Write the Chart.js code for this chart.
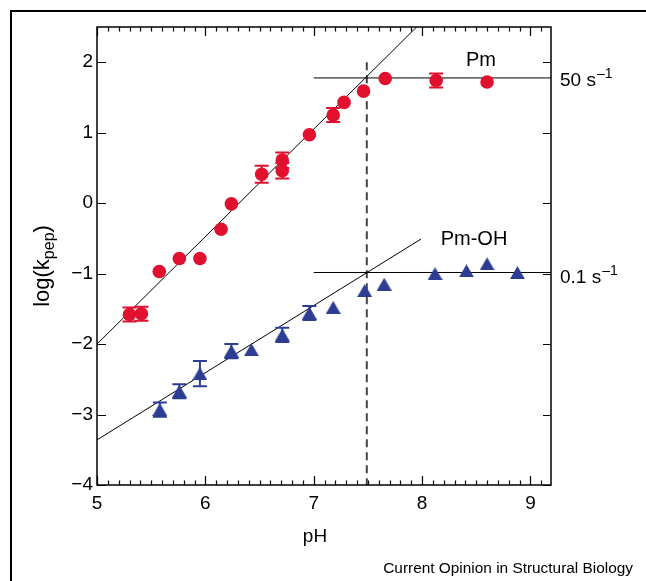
<!DOCTYPE html>
<html><head><meta charset="utf-8">
<script src="https://cdn.jsdelivr.net/npm/chart.js@4.4.1/dist/chart.umd.min.js"></script>
<style>html,body{margin:0;padding:0;background:#fff;}#wrap{width:646px;height:581px;position:relative;}</style>
</head><body><div id="wrap"><canvas id="c" width="646" height="581"></canvas></div>
<script>
// ---- data ----
const xTicks = [5, 6, 7, 8, 9];
const yTicks = [-4, -3, -2, -1, 0, 1, 2];
const pmPH  = [5.30, 5.41, 5.575, 5.76, 5.95, 6.145, 6.24, 6.52, 6.71, 6.71, 6.96, 7.18, 7.28, 7.46, 7.66, 8.13, 8.60];
const pmLog = [-1.58, -1.57, -0.97, -0.785, -0.785, -0.37, -0.01, 0.41, 0.46, 0.61, 0.97, 1.25, 1.43, 1.59, 1.77, 1.74, 1.72];
const pmErr = [0.10, 0.10, 0, 0, 0, 0, 0, 0.12, 0.11, 0.11, 0, 0.10, 0, 0, 0, 0.10, 0];
const ohPH  = [5.58, 5.76, 5.95, 6.24, 6.425, 6.71, 6.96, 7.18, 7.47, 7.65, 8.12, 8.41, 8.60, 8.88];
const ohLog = [-2.93, -2.67, -2.42, -2.10, -2.08, -1.87, -1.56, -1.48, -1.24, -1.15, -1.00, -0.96, -0.86, -0.985];
const ohErr = [0.10, 0.10, 0.18, 0.10, 0, 0.10, 0.10, 0, 0, 0, 0, 0, 0, 0];
const pmFitPH = [5.0, 7.95],  pmFitLog = [-2.0, 2.5];
const ohFitPH = [5.0, 7.99],  ohFitLog = [-3.36, -0.51];
const pmPlatPH = [7.0, 9.19], pmPlatLog = [1.777, 1.777];
const ohPlatPH = [7.0, 9.19], ohPlatLog = [-0.984, -0.984];
const pkaPH = [7.49, 7.49],   pkaLog = [2.0, -4.0];
const xMin = 5, xMax = 9.19, yMin = -4, yMax = 2.5;
const seriesNames = ['Pm', 'Pm-OH'];
const rateLabels = ['50 s', '0.1 s'];

// ---- helpers ----
const FONT = "'Liberation Sans', Arial, Helvetica, sans-serif";
const RED = '#e1102f', BLUE = '#2c3d93';
const pts = (xs, ys) => xs.map((x, i) => ({x: x, y: ys[i]}));
const lineDS = (xs, ys, extra) => Object.assign({
  data: pts(xs, ys), showLine: true, pointRadius: 0, borderColor: '#000', borderWidth: 1,
  fill: false, order: 5
}, extra || {});

// triangle marker centred on its bounding box
const tri = document.createElement('canvas');
tri.width = 15; tri.height = 13;
(function () {
  const t = tri.getContext('2d');
  t.fillStyle = BLUE;
  t.beginPath();
  t.moveTo(7.5, 0); t.lineTo(15, 13); t.lineTo(0, 13); t.closePath();
  t.fill();
})();

const errorBarPlugin = {
  id: 'errbars',
  beforeDatasetDraw(chart, args) {
    const ds = chart.data.datasets[args.index];
    if (!ds.errors) return;
    const {ctx, scales: {x, y}} = chart;
    ctx.save();
    ctx.strokeStyle = ds.errColor;
    ctx.lineWidth = 2;
    ds.data.forEach((p, i) => {
      const e = ds.errors[i];
      if (!e) return;
      const px = x.getPixelForValue(p.x);
      const y1 = y.getPixelForValue(p.y + e), y2 = y.getPixelForValue(p.y - e);
      ctx.beginPath();
      ctx.moveTo(px, y1); ctx.lineTo(px, y2);
      ctx.moveTo(px - 7, y1); ctx.lineTo(px + 7, y1);
      ctx.moveTo(px - 7, y2); ctx.lineTo(px + 7, y2);
      ctx.stroke();
    });
    ctx.restore();
  }
};

const framePlugin = {
  id: 'frame',
  afterDraw(chart) {
    const {ctx, chartArea: a, scales: {x, y}} = chart;
    ctx.save();
    ctx.strokeStyle = '#000';
    ctx.lineWidth = 1.5;
    ctx.strokeRect(a.left, a.top, a.right - a.left, a.bottom - a.top);
    ctx.lineWidth = 1.2;
    ctx.beginPath();
    for (let i = 0; i * 0.1 + xMin <= xMax + 1e-9; i++) {
      const v = xMin + i * 0.1;
      const px = Math.round(x.getPixelForValue(v)) + 0.5;
      const len = (i % 10 === 0) ? 9 : 4.5;
      ctx.moveTo(px, a.bottom); ctx.lineTo(px, a.bottom - len);
      ctx.moveTo(px, a.top); ctx.lineTo(px, a.top + len);
    }
    yTicks.forEach(v => {
      const py = Math.round(y.getPixelForValue(v)) + 0.5;
      ctx.moveTo(a.left, py); ctx.lineTo(a.left + 9, py);
      ctx.moveTo(a.right, py); ctx.lineTo(a.right - 8, py);
    });
    ctx.stroke();
    // outer frame
    ctx.lineWidth = 2;
    ctx.beginPath();
    ctx.moveTo(11, 581); ctx.lineTo(11, 11); ctx.lineTo(646, 11);
    ctx.stroke();

    ctx.fillStyle = '#000';
    ctx.textBaseline = 'alphabetic';
    // x title
    ctx.font = '19px ' + FONT;
    ctx.textAlign = 'center';
    ctx.fillText('pH', 315, 542);
    // series names
    ctx.font = '20px ' + FONT;
    ctx.fillText(seriesNames[0], 481, 66);
    ctx.fillText(seriesNames[1], 474, 245);
    // rate labels with superscript
    ctx.textAlign = 'left';
    const rate = (txt, px, base) => {
      ctx.font = '19px ' + FONT;
      ctx.fillText(txt, px, base);
      const w = ctx.measureText(txt).width;
      ctx.font = '14px ' + FONT;
      ctx.fillText('\u20131', px + w + 1, base - 8);
    };
    rate(rateLabels[0], 560, 86);
    rate(rateLabels[1], 560, 283);
    // y title with subscript
    ctx.save();
    ctx.translate(49, 266);
    ctx.rotate(-Math.PI / 2);
    ctx.font = '22px ' + FONT;
    const w1 = ctx.measureText('log(k').width, w3 = ctx.measureText(')').width;
    ctx.font = '16px ' + FONT;
    const w2 = ctx.measureText('pep').width;
    let sx = -(w1 + w2 + w3) / 2;
    ctx.font = '22px ' + FONT; ctx.fillText('log(k', sx, 0); sx += w1;
    ctx.font = '16px ' + FONT; ctx.fillText('pep', sx, 5); sx += w2;
    ctx.font = '22px ' + FONT; ctx.fillText(')', sx, 0);
    ctx.restore();
    // footer
    ctx.font = "15.4px 'Liberation Sans Narrow', 'Liberation Sans', Arial, sans-serif";
    ctx.textAlign = 'right';
    ctx.fillText('Current Opinion in Structural Biology', 633, 573);
    ctx.restore();
  }
};

const minusFmt = v => (v < 0 ? '\u2212' + Math.abs(v) : String(v));

new Chart(document.getElementById('c'), {
  type: 'scatter',
  data: {
    datasets: [
      {label: seriesNames[0], data: pts(pmPH, pmLog), errors: pmErr, errColor: RED, backgroundColor: RED, borderColor: RED,
       pointStyle: 'circle', pointRadius: 6.8, pointBorderWidth: 0, order: 0},
      {label: seriesNames[1], data: pts(ohPH, ohLog), errors: ohErr, errColor: BLUE, backgroundColor: BLUE, borderColor: BLUE,
       pointStyle: tri, pointRadius: 7.5, pointBorderWidth: 0, order: 1},
      lineDS(pmFitPH, pmFitLog),
      lineDS(ohFitPH, ohFitLog),
      lineDS(pmPlatPH, pmPlatLog),
      lineDS(ohPlatPH, ohPlatLog),
      lineDS(pkaPH, pkaLog, {borderColor: '#444', borderWidth: 2, borderDash: [8, 5], order: 6})
    ]
  },
  options: {
    responsive: false,
    animation: false,
    devicePixelRatio: 1,
    layout: {padding: {left: 0, top: 27, right: 95, bottom: 0}},
    plugins: {legend: {display: false}, tooltip: {enabled: false}},
    scales: {
      x: {
        type: 'linear', min: xMin, max: xMax,
        afterBuildTicks: s => { s.ticks = xTicks.map(v => ({value: v})); },
        afterFit: s => { s.height = 96; },
        ticks: {font: {family: FONT, size: 19}, color: '#000', padding: 7, maxRotation: 0, autoSkip: false},
        grid: {display: false, drawTicks: false},
        border: {display: false}
      },
      y: {
        type: 'linear', min: yMin, max: yMax,
        afterBuildTicks: s => { s.ticks = yTicks.map(v => ({value: v})); },
        afterFit: s => { s.width = 97; },
        ticks: {font: {family: FONT, size: 19}, color: '#000', padding: 4, callback: minusFmt},
        grid: {display: false, drawTicks: false},
        border: {display: false}
      }
    }
  },
  plugins: [errorBarPlugin, framePlugin]
});
</script></body></html>
